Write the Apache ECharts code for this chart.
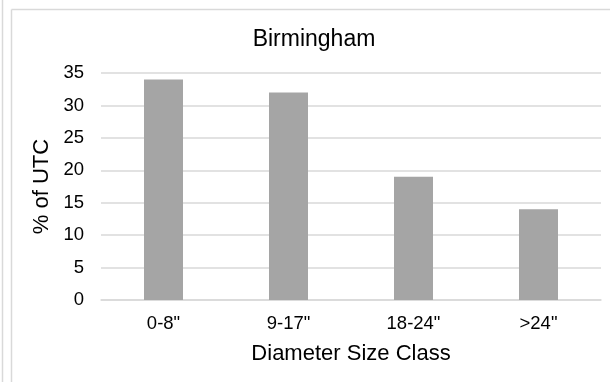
<!DOCTYPE html>
<html>
<head>
<meta charset="utf-8">
<script src="https://cdn.jsdelivr.net/npm/echarts@6/dist/echarts.min.js"></script>
<style>
html,body{margin:0;padding:0;background:#fff;}
#chart{width:610px;height:382px;}
</style>
</head>
<body>
<div id="chart"></div>
<script>
var categories = ['0-8"', '9-17"', '18-24"', '>24"'];
var values = [34, 32, 19, 14];
var yTicks = { min: 0, max: 35, interval: 5 };
var titleText = 'Birmingham';
var xName = 'Diameter Size Class';
var yName = '% of UTC';

var chart = echarts.init(document.getElementById('chart'), null, {renderer: 'canvas'});
var font = '"Liberation Sans", Arial, sans-serif';
chart.setOption({
  animation: false,
  backgroundColor: '#fff',
  title: {
    text: titleText,
    left: 309, top: 23, textAlign: 'center',
    textStyle: { fontFamily: font, fontSize: 23, fontWeight: 'normal', color: '#000' }
  },
  grid: { left: 101, right: 9, top: 73, bottom: 82, containLabel: false },
  xAxis: {
    type: 'category',
    data: categories,
    name: xName,
    nameLocation: 'middle',
    nameGap: 43,
    nameTextStyle: { fontFamily: font, fontSize: 22, color: '#000' },
    axisLine: { show: true, lineStyle: { color: '#d9d9d9', width: 1.5 } },
    axisTick: { show: false },
    axisLabel: { fontFamily: font, fontSize: 18.5, color: '#000', margin: 14 }
  },
  yAxis: {
    type: 'value',
    min: yTicks.min, max: yTicks.max, interval: yTicks.interval,
    name: yName,
    nameLocation: 'middle',
    nameGap: 47,
    nameTextStyle: { fontFamily: font, fontSize: 22, color: '#000' },
    axisLine: { show: false },
    axisTick: { show: false },
    axisLabel: { fontFamily: font, fontSize: 18.5, color: '#000', margin: 17 },
    splitLine: { lineStyle: { color: '#d9d9d9', width: 1.5 } }
  },
  series: [{
    type: 'bar',
    data: values,
    barWidth: 39,
    itemStyle: { color: '#a5a5a5' }
  }],
  graphic: [
    { type: 'line', shape: { x1: 2.5, y1: 0, x2: 2.5, y2: 382 }, style: { stroke: '#d9d9d9', lineWidth: 1.5 } },
    { type: 'line', shape: { x1: 11.5, y1: 9.5, x2: 11.5, y2: 382 }, style: { stroke: '#d9d9d9', lineWidth: 1.5 } },
    { type: 'line', shape: { x1: 11.5, y1: 9.5, x2: 610, y2: 9.5 }, style: { stroke: '#d9d9d9', lineWidth: 1.5 } }
  ]
});
</script>
</body>
</html>
